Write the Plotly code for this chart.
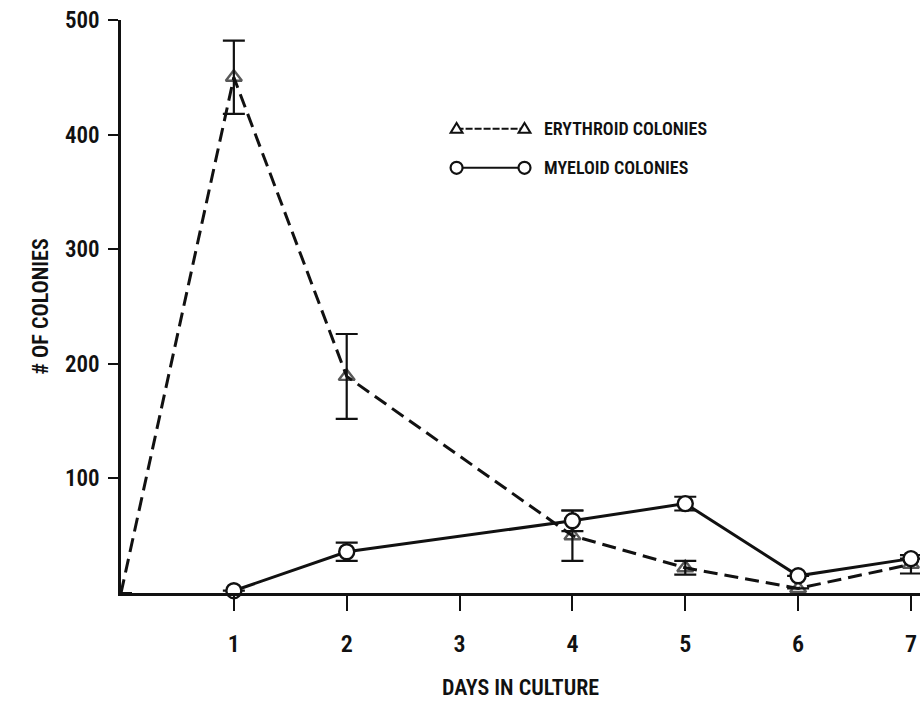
import plotly.graph_objects as go

# Colony counts by day in culture
ery_days = [0, 1, 2, 4, 5, 6, 7]
ery_counts = [0, 450, 189, 50, 22, 4, 25]
ery_err = [0, 32, 37, 22, 6, 0, 8]

mye_days = [1, 2, 4, 5, 6, 7]
mye_counts = [2, 36, 63, 78, 15, 30]
mye_err = [0, 8, 9, 6, 0, 0]

x_ticks = [1, 2, 3, 4, 5, 6, 7]
y_ticks = [100, 200, 300, 400, 500]

FONT = "Liberation Sans Narrow, Roboto Condensed, Arial Narrow, Liberation Sans, sans-serif"
INK = "#111111"

fig = go.Figure()

fig.add_trace(go.Scatter(
    x=ery_days, y=ery_counts, mode="lines+markers", name="ERYTHROID COLONIES",
    line=dict(color=INK, width=3, dash="14px,7px"),
    marker=dict(symbol="triangle-up-open", size=[0] + [14] * (len(ery_days) - 1),
                color=INK, line=dict(width=2.4, color=INK)),
    error_y=dict(type="data", array=ery_err, visible=True, color=INK,
                 thickness=2.2, width=11),
    showlegend=False, cliponaxis=False,
))

fig.add_trace(go.Scatter(
    x=mye_days, y=mye_counts, mode="lines+markers", name="MYELOID COLONIES",
    line=dict(color=INK, width=3),
    marker=dict(symbol="circle", size=15, color="white",
                line=dict(width=2.4, color=INK)),
    error_y=dict(type="data", array=mye_err, visible=True, color=INK,
                 thickness=2.2, width=11),
    showlegend=False, cliponaxis=False,
))

# Hand-drawn style key: a line with a symbol at each end, then the label
key_rows = [
    ("ERYTHROID COLONIES", "dash", "tri", 0.81),
    ("MYELOID COLONIES", "solid", "circ", 0.742),
]
x0, x1 = 0.42, 0.505
shapes = []
annotations = []
for label, dash, sym, yy in key_rows:
    shapes.append(dict(type="line", xref="paper", yref="paper",
                       x0=x0, x1=x1, y0=yy, y1=yy,
                       line=dict(color=INK, width=2,
                                 dash="7px,2px" if dash == "dash" else "solid")))
    for xx in (x0, x1):
        if sym == "tri":
            # open triangle built from a path in pixel offsets around the anchor
            shapes.append(dict(type="path", xref="paper", yref="paper",
                               xsizemode="pixel", ysizemode="pixel",
                               xanchor=xx, yanchor=yy,
                               path="M -6 -4 L 6 -4 L 0 6 Z",
                               fillcolor="white", line=dict(color=INK, width=2)))
        else:
            shapes.append(dict(type="circle", xref="paper", yref="paper",
                               xsizemode="pixel", ysizemode="pixel",
                               xanchor=xx, yanchor=yy,
                               x0=-6, x1=6, y0=-6, y1=6,
                               fillcolor="white", line=dict(color=INK, width=2.2)))
    annotations.append(dict(text=label, xref="paper", yref="paper",
                            x=x1 + 0.022, y=yy, xanchor="left", yanchor="middle",
                            showarrow=False,
                            font=dict(family=FONT, size=18, color=INK, weight=600)))

fig.update_layout(
    width=920, height=712,
    margin=dict(l=121, r=0, t=20, b=119),
    paper_bgcolor="white", plot_bgcolor="white",
    font=dict(family=FONT, size=22, color=INK, weight=600),
    shapes=shapes, annotations=annotations,
    xaxis=dict(
        range=[0, 7.08], tickvals=x_ticks, ticktext=[str(v) for v in x_ticks],
        ticks="outside", ticklen=15, tickwidth=2, tickcolor=INK,
        showline=True, linecolor=INK, linewidth=2.5,
        showgrid=False, zeroline=False,
        ticklabelstandoff=12,
        tickfont=dict(family=FONT, size=24, color=INK, weight=600),
        title=dict(text="DAYS IN CULTURE", standoff=24,
                   font=dict(family=FONT, size=22, color=INK, weight=600)),
    ),
    yaxis=dict(
        range=[0, 500], tickvals=y_ticks, ticktext=[str(v) for v in y_ticks],
        ticks="outside", ticklen=10, tickwidth=2, tickcolor=INK,
        showline=True, linecolor=INK, linewidth=2.5,
        showgrid=False, zeroline=False,
        ticklabelstandoff=4,
        tickfont=dict(family=FONT, size=23, color=INK, weight=600),
        title=dict(text="# OF COLONIES", standoff=11,
                   font=dict(family=FONT, size=22, color=INK, weight=600)),
    ),
)

fig.write_html("out.html")
